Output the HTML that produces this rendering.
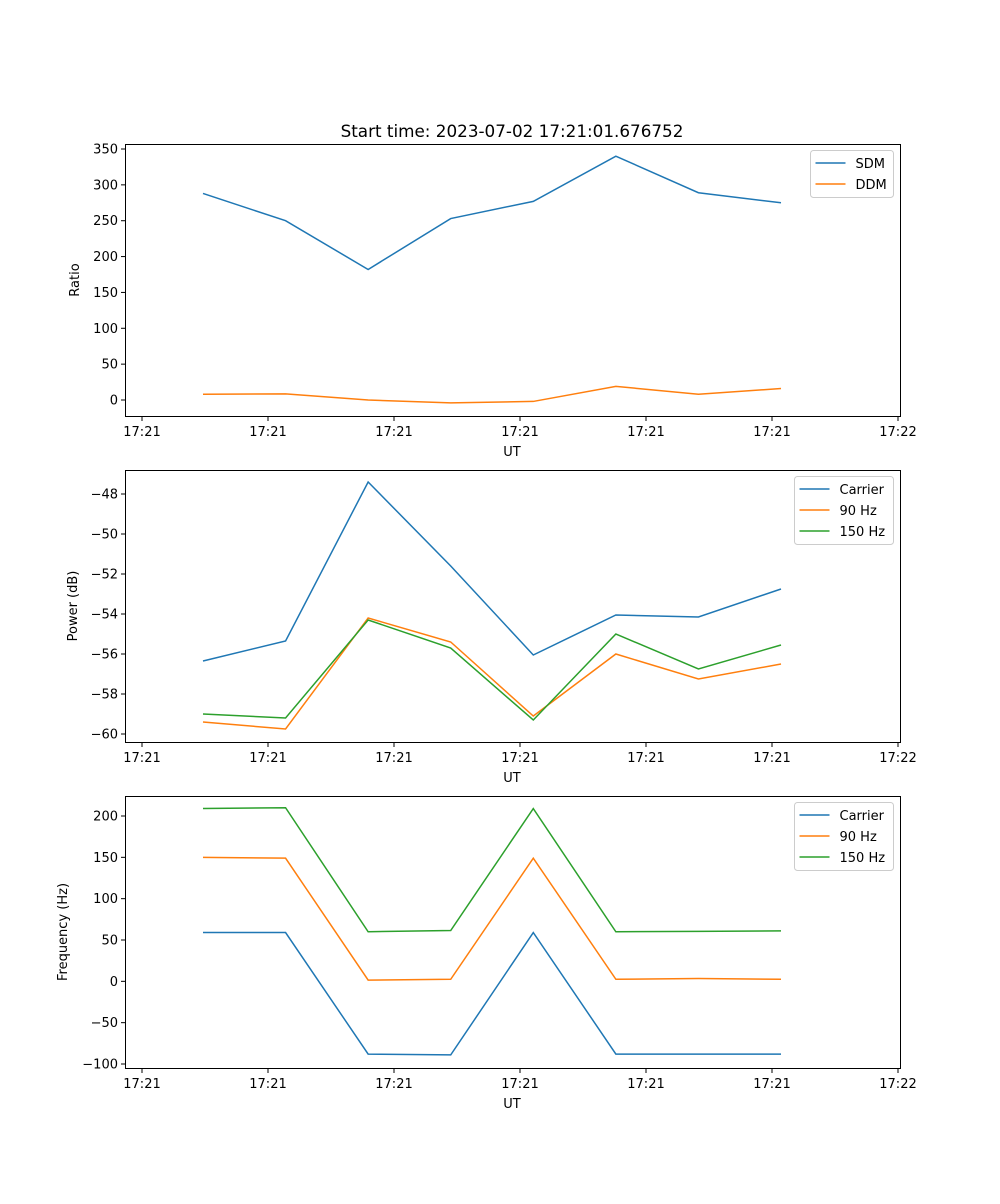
<!DOCTYPE html>
<html><head><meta charset="utf-8"><style>
body{margin:0;background:#fff;font-family:"DejaVu Sans","Liberation Sans",sans-serif;}
svg text{font-family:"DejaVu Sans","Liberation Sans",sans-serif;font-size:13px;fill:#000;}
</style></head><body>
<svg id="fig" width="1000" height="1200" xmlns="http://www.w3.org/2000/svg">
<text x="512" y="137" text-anchor="middle" style="font-size:16.8px">Start time: 2023-07-02 17:21:01.676752</text>
</svg>
<script>
const xTickLabels=["17:21","17:21","17:21","17:21","17:21","17:21","17:22"];
const ratioTicks=[0,50,100,150,200,250,300,350];
const powerTicks=[-60,-58,-56,-54,-52,-50,-48];
const freqTicks=[-100,-50,0,50,100,150,200];
const sdm=[288,250,182,253,277,340,289,275];
const ddm=[8,8.5,0,-4,-2,19,8,16];
const powCarrier=[-56.35,-55.35,-47.4,-51.6,-56.05,-54.05,-54.15,-52.75];
const pow90=[-59.4,-59.75,-54.2,-55.4,-59.1,-56.0,-57.25,-56.5];
const pow150=[-59.0,-59.2,-54.3,-55.7,-59.3,-55.0,-56.75,-55.55];
const frqCarrier=[59,59,-88,-89,59,-88,-88,-88];
const frq90=[150,149,1.5,2.5,149,2.5,3.5,2.5];
const frq150=[209,210,60,61.5,209,60,60.5,61];
const C=["#1f77b4","#ff7f0e","#2ca02c"];
const NS="http://www.w3.org/2000/svg";
const svg=document.getElementById('fig');
function mk(t,a,p){const e=document.createElementNS(NS,t);for(const k in a)e.setAttribute(k,a[k]);(p||svg).appendChild(e);return e;}
function xs(i){return 203+i*(781-203)/7;}
const xTickPos=[142,268,394,520,646,772,898];
function panel(top,bot,yv0,yp0,yv1,yp1,ticks,series,names,legend,ylabel,pname){
  const g=mk('g',{});
  
  
  const ys=v=>yp0+(v-yv0)*(yp1-yp0)/(yv1-yv0);
  series.forEach((s,k)=>{
    const p=mk('polyline',{points:s.map((v,i)=>xs(i)+','+ys(v)).join(' '),fill:'none',stroke:C[k],'stroke-width':1.5},g);
    
    
  });
  mk('rect',{x:125.5,y:top+.5,width:775,height:bot-top,fill:'none',stroke:'#000','stroke-width':1},g);
  ticks.forEach(t=>{const y=ys(t);
    mk('line',{x1:121,x2:125,y1:y,y2:y,stroke:'#000'},g);
    const tx=mk('text',{x:118,y:y+4.5,'text-anchor':'end'},g);tx.textContent=String(t).replace('-','\u2212');
    
    });
  xTickLabels.forEach((l,i)=>{const x=xTickPos[i];
    mk('line',{x1:x,x2:x,y1:bot+1,y2:bot+5,stroke:'#000'},g);
    const tx=mk('text',{x:x,y:bot+20,'text-anchor':'middle'},g);tx.textContent=l;
    
    });
  const xl=mk('text',{x:512,y:bot+40,'text-anchor':'middle'},g);xl.textContent='UT';
  
  
  const mid=(top+bot)/2;
  const yl=mk('text',{x:0,y:0,'text-anchor':'middle',transform:`translate(${legend.yl},${mid}) rotate(-90)`},g);yl.textContent=ylabel;
  
  
  const lg=mk('g',{},g);
  
  
  mk('rect',{x:legend.x,y:top+6.5,width:legend.w,height:names.length*21+5,rx:3,fill:'#fff',stroke:'#ccc'},lg);
  names.forEach((n,k)=>{const y=top+19+k*21;
    mk('line',{x1:legend.x+5,x2:legend.x+35,y1:y,y2:y,stroke:C[k],'stroke-width':1.5},lg);
    const t=mk('text',{x:legend.x+45,y:y+5},lg);t.textContent=n;
    
    });
}
panel(144,416,0,400,350,149,ratioTicks,[sdm,ddm],["SDM","DDM"],{x:810.5,w:83,yl:79},'Ratio','ratio-panel');
panel(470,742,-48,494,-60,734,powerTicks,[powCarrier,pow90,pow150],["Carrier","90 Hz","150 Hz"],{x:794.5,w:99,yl:77},'Power (dB)','power-panel');
panel(796,1068,200,816,-100,1064,freqTicks,[frqCarrier,frq90,frq150],["Carrier","90 Hz","150 Hz"],{x:794.5,w:99,yl:67},'Frequency (Hz)','frequency-panel');
</script>
</body></html>
